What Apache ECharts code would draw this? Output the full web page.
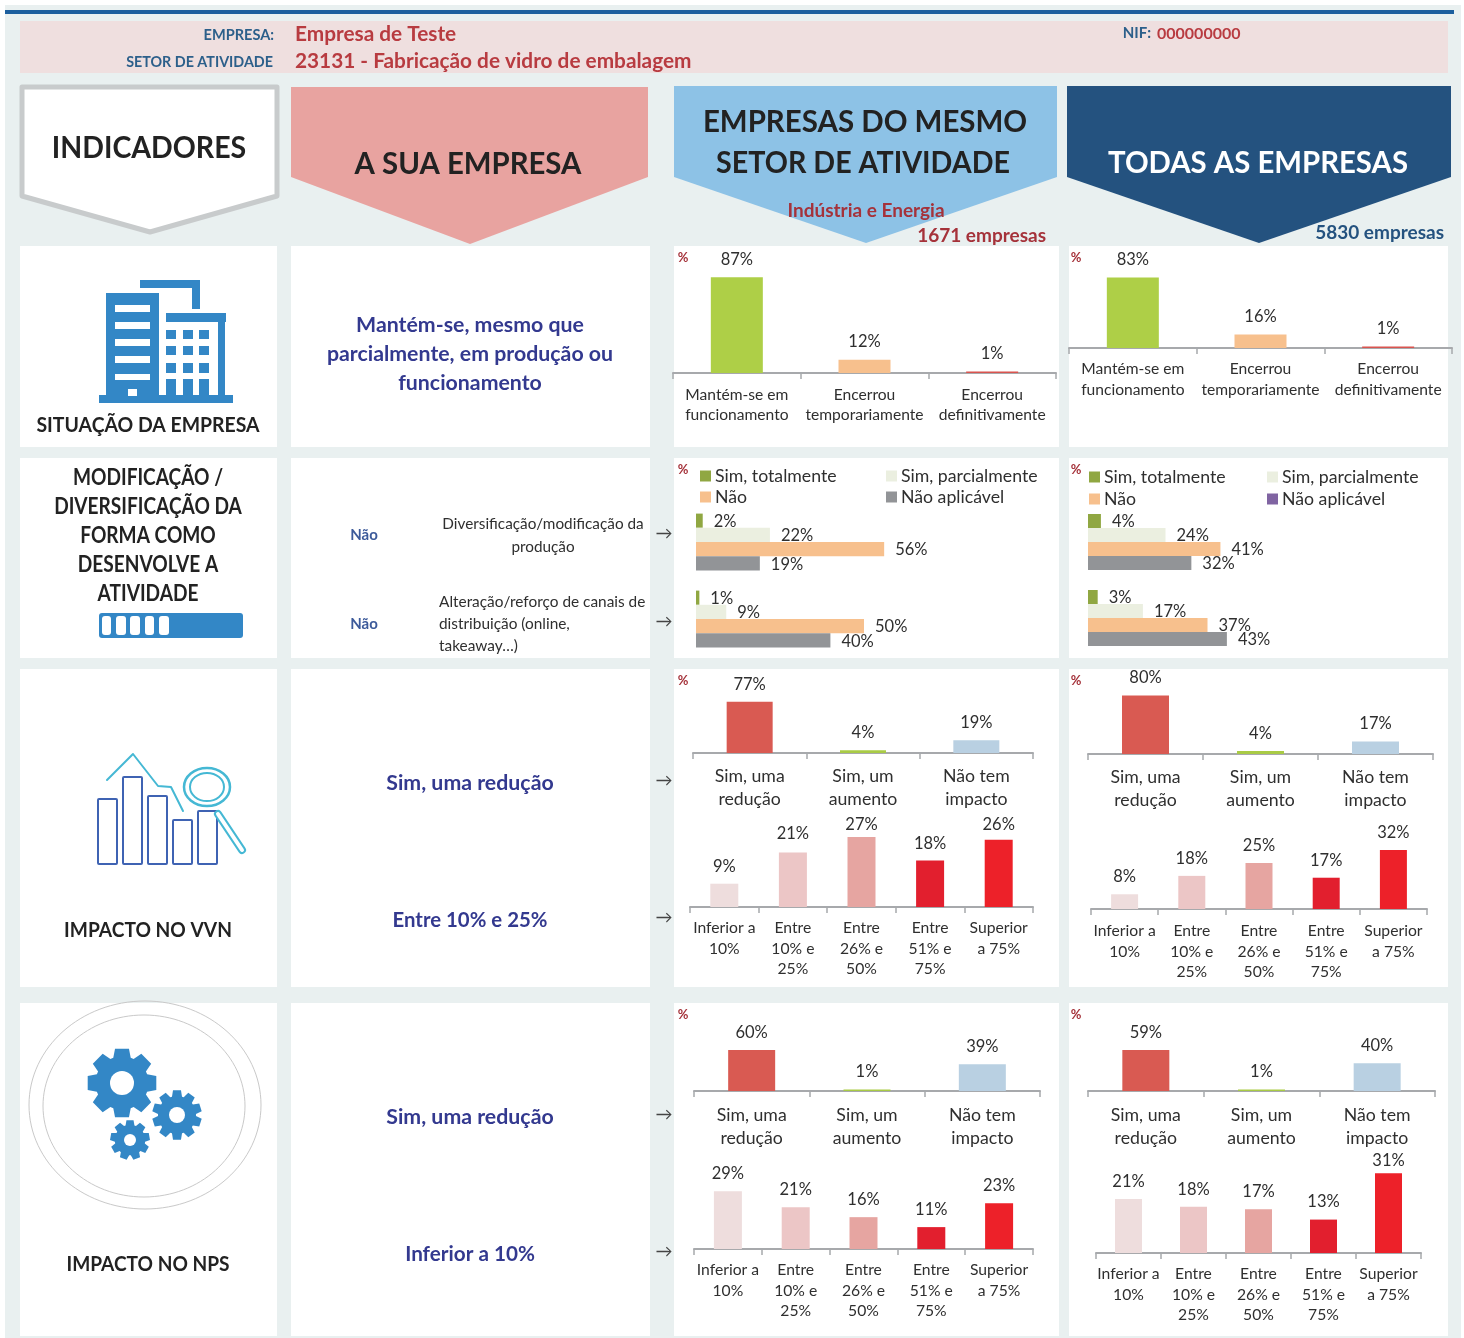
<!DOCTYPE html>
<html lang="pt"><head><meta charset="utf-8">
<title>Indicadores</title>
<style>html,body{margin:0;padding:0;background:#fff}#c{width:1464px;height:1338px}</style>
<script src="https://cdn.jsdelivr.net/npm/echarts@6/dist/echarts.min.js"></script>
</head><body><div id="c"></div>
<script>
// ---- categories
const catSituacao = ['Mantém-se em\nfuncionamento', 'Encerrou\ntemporariamente', 'Encerrou\ndefinitivamente'];
const catImpacto = ['Sim, uma\nredução', 'Sim, um\naumento', 'Não tem\nimpacto'];
const catFaixa = ['Inferior a\n10%', 'Entre\n10% e\n25%', 'Entre\n26% e\n50%', 'Entre\n51% e\n75%', 'Superior\na 75%'];
const catModif = ['Diversificação/modificação da produção', 'Alteração/reforço de canais de distribuição'];
const modifSeriesNames = ['Sim, totalmente', 'Sim, parcialmente', 'Não', 'Não aplicável'];
// ---- values (%)
const situacaoSetor = [87, 12, 1];
const situacaoTodas = [83, 16, 1];
const modifSetorTotal = [2, 1];
const modifSetorParcial = [22, 9];
const modifSetorNao = [56, 50];
const modifSetorNA = [19, 40];
const modifTodasTotal = [4, 3];
const modifTodasParcial = [24, 17];
const modifTodasNao = [41, 37];
const modifTodasNA = [32, 43];
const vvnSetor = [77, 4, 19];
const vvnTodas = [80, 4, 17];
const vvnFaixaSetor = [9, 21, 27, 18, 26];
const vvnFaixaTodas = [8, 18, 25, 17, 32];
const npsSetor = [60, 1, 39];
const npsTodas = [59, 1, 40];
const npsFaixaSetor = [29, 21, 16, 11, 23];
const npsFaixaTodas = [21, 18, 17, 13, 31];
// ---- colours
const colSituacao = ['#aecf47', '#f7c08d', '#d9544f'];
const colImpacto = ['#d95a52', '#a9cb45', '#b9d0e2'];
const colFaixa = ['#eedddd', '#ecc6c6', '#e6a5a1', '#e21f2e', '#ed2129'];
const colModif = ['#90a742', '#ebefe0', '#f7c08d', '#929497'];
const FONT = 'Lato';
const INK = '#2f2f2f';

// ---- layout of the small vertical charts
const vCharts = [
  {v: situacaoSetor, c: catSituacao, col: colSituacao, l: 673, r: 1056, b: 373, u: 1.10, w: 52, f: 15.6, lh: 20, m: 12, max: 100, gaps: [9, 10, 9]},
  {v: situacaoTodas, c: catSituacao, col: colSituacao, l: 1069, r: 1452, b: 348, u: 0.85, w: 52, f: 15.6, lh: 21, m: 10, max: 100},
  {v: vvnSetor, c: catImpacto, col: colImpacto, l: 693, r: 1033, b: 753, u: 0.665, w: 46, f: 17.7, lh: 23, m: 12, max: 100},
  {v: vvnTodas, c: catImpacto, col: colImpacto, l: 1088, r: 1433, b: 754, u: 0.73, w: 47, f: 17.7, lh: 23, m: 12, max: 100},
  {v: vvnFaixaSetor, c: catFaixa, col: colFaixa, l: 690, r: 1033, b: 907, u: 2.59, w: 28, f: 15.7, lh: 20.5, m: 11, max: 40, gaps: [9, 10, 4, 8, 6]},
  {v: vvnFaixaTodas, c: catFaixa, col: colFaixa, l: 1091, r: 1427, b: 909, u: 1.84, w: 27, f: 15.7, lh: 20.5, m: 12, max: 40},
  {v: npsSetor, c: catImpacto, col: colImpacto, l: 694, r: 1040, b: 1091, u: 0.685, w: 47, f: 17.7, lh: 23, m: 13, max: 100},
  {v: npsTodas, c: catImpacto, col: colImpacto, l: 1088, r: 1435, b: 1091, u: 0.695, w: 47, f: 17.7, lh: 23, m: 13, max: 100},
  {v: npsFaixaSetor, c: catFaixa, col: colFaixa, l: 694, r: 1033, b: 1249, u: 1.99, w: 28, f: 15.7, lh: 20.5, m: 11, max: 40},
  {v: npsFaixaTodas, c: catFaixa, col: colFaixa, l: 1096, r: 1421, b: 1253, u: 2.57, w: 27, f: 15.7, lh: 20.5, m: 11, max: 40, gaps: [9, 9, 9, 9, 4]}
];
// ---- layout of the two horizontal charts
const hCharts = [
  {s: [modifSetorTotal, modifSetorParcial, modifSetorNao, modifSetorNA], l: 696, u: 3.36, top: 503.5, band: 77, bw: 14.2},
  {s: [modifTodasTotal, modifTodasParcial, modifTodasNao, modifTodasNA], l: 1088, u: 3.23, top: 504, band: 76, bw: 14}
];

const grids = [], xAxes = [], yAxes = [], series = [];
vCharts.forEach((k, i) => {
  const h = k.max * k.u;
  grids.push({left: k.l, width: k.r - k.l, top: k.b - h, height: h, containLabel: false});
  xAxes.push({type: 'category', gridIndex: i, data: k.c, boundaryGap: true,
    axisLine: {show: true, lineStyle: {color: '#a7a9ac', width: 2}},
    axisTick: {show: true, length: 6, lineStyle: {color: '#a7a9ac', width: 1.5}},
    axisLabel: {interval: 0, hideOverlap: false, fontFamily: FONT, fontSize: k.f, lineHeight: k.lh, margin: k.m, color: INK, align: 'center'}});
  yAxes.push({type: 'value', gridIndex: i, min: 0, max: k.max, show: false});
  series.push({type: 'bar', xAxisIndex: i, yAxisIndex: i, barWidth: k.w, barMinHeight: 1.5, animation: false,
    data: k.v.map((val, j) => ({value: val, itemStyle: {color: k.col[j]},
      label: {distance: k.gaps ? k.gaps[j] : 9}})),
    label: {show: true, position: 'top', formatter: '{c}%', fontFamily: FONT, fontSize: 16.5, color: INK}});
});
hCharts.forEach((k) => {
  const i = grids.length;
  grids.push({left: k.l, width: 100 * k.u, top: k.top, height: 2 * k.band, containLabel: false});
  xAxes.push({type: 'value', gridIndex: i, min: 0, max: 100, show: false});
  yAxes.push({type: 'category', gridIndex: i, data: catModif, inverse: true, show: false});
  k.s.forEach((vals, j) => series.push({type: 'bar', name: modifSeriesNames[j], xAxisIndex: i, yAxisIndex: i,
    data: vals, barWidth: k.bw, barGap: 0, animation: false, itemStyle: {color: colModif[j]},
    label: {show: true, position: 'right', distance: 11, offset: [0, 1], formatter: '{c}%', fontFamily: FONT, fontSize: 16.5, color: INK}}));
});

// ---- legends
function lg(name, left, top, color) {
  return {left, top, selectedMode: false, itemWidth: 11, itemHeight: 11, icon: 'rect', itemGap: 0,
    data: [{name, itemStyle: color ? {color} : undefined}],
    textStyle: {fontFamily: FONT, fontSize: 17.7, color: INK, lineHeight: 20, padding: [0, 0, 0, -1]}, padding: 0};
}
const legends = [
  lg(modifSeriesNames[0], 700, 466), lg(modifSeriesNames[1], 886, 466),
  lg(modifSeriesNames[2], 700, 487), lg(modifSeriesNames[3], 886, 487),
  lg(modifSeriesNames[0], 1089, 467), lg(modifSeriesNames[1], 1267, 467),
  lg(modifSeriesNames[2], 1089, 489), lg(modifSeriesNames[3], 1267, 489, '#8064a2')
];

// ---- decorative page furniture
const g = [];
const rect = (x, y, w, h, fill, r) => g.push({type: 'rect', z: -5, shape: {x, y, width: w, height: h, r: r || 0}, style: {fill}, silent: true});
const poly = (points, fill, stroke, lw) => g.push({type: 'polygon', z: -4, shape: {points}, style: {fill, stroke, lineWidth: lw || 0, lineJoin: 'round'}, silent: true});
const txt = (text, x, y, font, fill, weight, align, sx) => g.push({type: 'text', z: 10, x, y, scaleX: sx || 1, silent: true,
  style: {text, fill, fontFamily: FONT, fontSize: font, fontWeight: weight || 'normal', align: align || 'center', verticalAlign: 'middle'}});
const line = (points, stroke, lw) => g.push({type: 'polyline', z: 1, shape: {points}, style: {stroke, lineWidth: lw, fill: null, lineCap: 'round', lineJoin: 'round'}, silent: true});
const ell = (cx, cy, rx, ry, stroke, lw, fill) => g.push({type: 'ellipse', z: 1, shape: {cx, cy, rx, ry}, style: {stroke, lineWidth: lw, fill: fill || 'transparent'}, silent: true});

rect(5, 5, 1456, 1333, '#e9f0f0');
rect(5, 10, 1449, 4, '#1c5f9e');
rect(20, 21, 1428, 52, '#efdfdf');
[[20, 277], [291, 650], [674, 1059], [1069, 1448]].forEach(([a, b]) => {
  [[246, 447], [458, 658], [669, 987], [1003, 1336]].forEach(([t, u]) => rect(a, t, b - a, u - t, '#ffffff'));
});
// banners
poly([[22, 87], [277, 87], [277, 196], [150, 232], [22, 196]], '#ffffff', '#c8cbcc', 5);
poly([[291, 87], [648, 87], [648, 177], [470, 244], [291, 177]], '#e8a3a0');
poly([[674, 86], [1057, 86], [1057, 177], [866, 243], [674, 177]], '#8dc2e6');
poly([[1067, 86], [1451, 86], [1451, 177], [1259, 243], [1067, 177]], '#24527f');

const HDR = '#2c5f8a', RED = '#b83b40', DKRED = '#a5323a', NAVY = '#33398f', BLK = '#222222';
txt('EMPRESA:', 274, 35, 15, HDR, 'bold', 'right', 0.97);
txt('SETOR DE ATIVIDADE', 273, 62, 15, HDR, 'bold', 'right', 0.955);
txt('Empresa de Teste', 295, 34, 20.8, RED, 'bold', 'left');
txt('23131 - Fabricação de vidro de embalagem', 295, 61, 20.8, RED, 'bold', 'left');
txt('NIF:', 1151, 33, 15, HDR, 'bold', 'right');
txt('000000000', 1157, 34, 16, RED, 'bold', 'left');
txt('INDICADORES', 149, 148, 31, BLK, 'bold', 'center', 0.92);
txt('A SUA EMPRESA', 468, 164, 31, BLK, 'bold', 'center', 0.946);
txt('EMPRESAS DO MESMO', 865, 122, 31, BLK, 'bold', 'center', 0.95);
txt('SETOR DE ATIVIDADE', 863, 163, 31, BLK, 'bold', 'center', 0.925);
txt('TODAS AS EMPRESAS', 1258, 163, 31, '#ffffff', 'bold', 'center', 0.946);
txt('Indústria e Energia', 866, 211, 19, DKRED, 'bold');
txt('1671 empresas', 1046, 236, 19, DKRED, 'bold', 'right');
txt('5830 empresas', 1444, 233, 19, '#24527f', 'bold', 'right');

txt('SITUAÇÃO DA EMPRESA', 148, 425, 21, BLK, 'bold', 'center', 0.925);
['MODIFICAÇÃO /', 'DIVERSIFICAÇÃO DA', 'FORMA COMO', 'DESENVOLVE A', 'ATIVIDADE'].forEach((s, i) => txt(s, 148, 478 + 29 * i, 22, BLK, 'bold', 'center', 0.868));
txt('IMPACTO NO VVN', 148, 930, 21, BLK, 'bold', 'center', 0.913);
txt('IMPACTO NO NPS', 148, 1264, 21, BLK, 'bold', 'center', 0.91);

[['Mantém-se, mesmo que', 325, 1.015], ['parcialmente, em produção ou', 354, 1.015], ['funcionamento', 383, 1.015],
 ['Sim, uma redução', 783, 1.015], ['Entre 10% e 25%', 920, 0.97], ['Sim, uma redução', 1117, 1.015], ['Inferior a 10%', 1254, 0.985]]
  .forEach(([s, y, sx]) => txt(s, 470, y, 21, NAVY, 'bold', 'center', sx));
txt('Não', 364, 535, 15, '#3c5a9a', 'bold');
txt('Não', 364, 624, 15, '#3c5a9a', 'bold');
txt('Diversificação/modificação da', 543, 524, 15.3, INK);
txt('produção', 543, 547, 15.3, INK);
txt('Alteração/reforço de canais de', 439, 602, 15.4, INK, 'normal', 'left');
txt('distribuição (online,', 439, 624, 15.4, INK, 'normal', 'left');
txt('takeaway…)', 439, 646, 15.4, INK, 'normal', 'left');
[534, 622, 781, 918, 1115, 1252].forEach(y => txt('→', 664, y, 17, '#444444'));
[[683, 258], [1076, 258], [683, 470], [1076, 470], [683, 681], [1076, 681], [683, 1015], [1076, 1015]]
  .forEach(([x, y]) => txt('%', x, y, 13, DKRED, 'bold'));

// building icon
const B = '#3387c6';
[[99, 395, 134, 8], [106, 293, 53, 103], [140, 280, 60, 8], [192, 280, 8, 29], [166, 313, 60, 9], [218, 322, 7, 75]].forEach(a => rect(...a, B));
[[115, 305, 35, 7], [115, 322, 35, 7], [115, 339, 35, 7], [115, 356, 35, 7], [115, 374, 35, 6], [128, 389, 9, 7]].forEach(a => g.push({type: 'rect', z: -3, shape: {x: a[0], y: a[1], width: a[2], height: a[3]}, style: {fill: '#fff'}, silent: true}));
[166, 183, 199].forEach(x => {
  [[330, 9], [346, 9], [363, 10], [379, 17]].forEach(([y, h]) => rect(x, y, 10, h, B));
});
// progress icon
rect(99, 613, 144, 25, B, 3);
[[102, 9], [116, 10], [130, 10], [145, 9], [159, 10]].forEach(([x, w]) => g.push({type: 'rect', z: -3, shape: {x, y: 616, width: w, height: 19, r: 3}, style: {fill: '#fff'}, silent: true}));
// VVN icon
[[98, 799, 19, 65], [123, 777, 19, 87], [148, 796, 19, 68], [173, 820, 19, 44], [198, 811, 19, 53]].forEach(([x, y, w, h]) =>
  g.push({type: 'rect', z: 1, shape: {x, y, width: w, height: h, r: 1}, style: {fill: '#fff', stroke: '#3f63b3', lineWidth: 2}, silent: true}));
line([[107, 780], [133, 754], [158, 786], [171, 787], [183, 811]], '#45b8d4', 2);
ell(207, 787, 23, 19, '#45b8d4', 2.5, '#fff');
ell(207, 787, 17, 14, '#45b8d4', 2);
line([[218, 814], [242, 850]], '#45b8d4', 8);
g.push({type: 'polyline', z: 2, shape: {points: [[218, 814], [242, 850]]}, style: {stroke: '#fff', lineWidth: 4, lineCap: 'round'}, silent: true});
// NPS icon
ell(145, 1105, 116, 104, '#c9c9c9', 1);
ell(144, 1106, 101, 91, '#c9c9c9', 1);
function gear(cx, cy, R, teeth, hole) {
  const pts = [], rIn = R * 0.76, n = teeth, st = Math.PI * 2 / n;
  for (let i = 0; i < n; i++) {
    const a = i * st - Math.PI / 2;
    [[rIn, -0.5], [R, -0.3], [R, 0.3], [rIn, 0.5]].forEach(([r, o]) => {
      const t = a + o * st * 0.85; pts.push([cx + r * Math.cos(t), cy + r * Math.sin(t)]);
    });
  }
  g.push({type: 'polygon', z: 1, shape: {points: pts}, style: {fill: B}, silent: true});
  g.push({type: 'circle', z: 2, shape: {cx, cy, r: hole}, style: {fill: '#fff'}, silent: true});
}
gear(122, 1083, 35, 8, 12);
gear(177, 1115, 25, 10, 8);
gear(130, 1140, 20, 9, 6);

const chart = echarts.init(document.getElementById('c'));
chart.setOption({animation: false, backgroundColor: '#ffffff', textStyle: {fontFamily: FONT},
  tooltip: {show: false}, legend: legends, grid: grids, xAxis: xAxes, yAxis: yAxes, series, graphic: {elements: g}});
</script></body></html>
